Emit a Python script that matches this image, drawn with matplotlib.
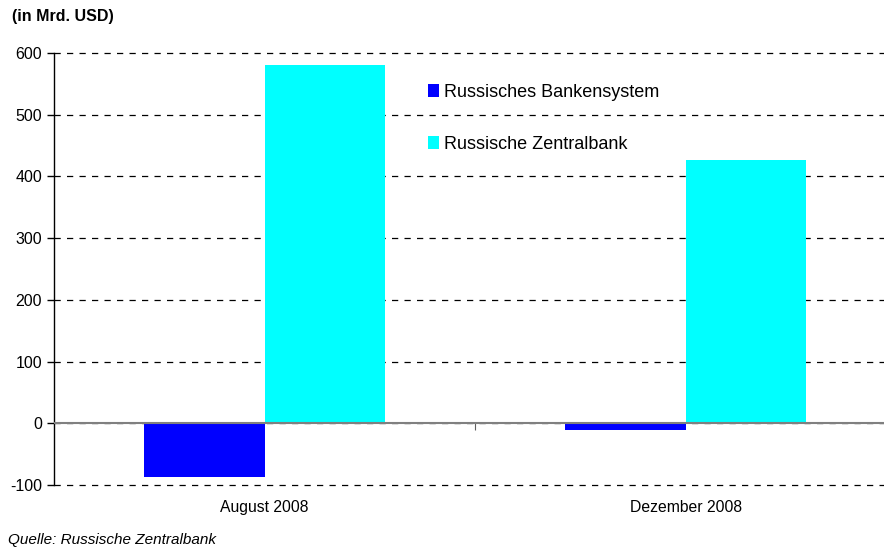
import matplotlib
matplotlib.use("Agg")
from matplotlib import pyplot as plt
import numpy as np

plt.rcParams['font.family'] = ['Liberation Sans', 'DejaVu Sans']

# Daten (in Mrd. USD)
categories = ['August 2008', 'Dezember 2008']
bankensystem = [-87, -11]
zentralbank = [580, 426]
series_names = ['Russisches Bankensystem', 'Russische Zentralbank']
yticks = [-100, 0, 100, 200, 300, 400, 500, 600]

fig = plt.figure(figsize=(8.84, 5.48), dpi=100)
# Achse reicht etwas ueber den rechten Rand hinaus (wie im Original)
ax = fig.add_axes([54/884, 1-485/548, 842/884, (485-53)/548])

x = np.arange(len(categories))
w = 0.287
ax.bar(x - w/2, bankensystem, w, color='#0000ff', label=series_names[0], zorder=3)
ax.bar(x + w/2, zentralbank, w, color='#00ffff', label=series_names[1], zorder=3)

ax.set_ylim(-100, 600)
ax.set_xlim(-0.5, 1.5)
ax.set_yticks(yticks)
ax.set_yticklabels([str(v) for v in yticks], fontsize=11.5)
ax.yaxis.grid(True, linestyle=(0, (5, 5)), color='black', linewidth=0.9, zorder=0)
for gl in ax.get_ygridlines():
    gl.set_clip_on(False)
ax.axhline(0, color='#808080', linewidth=1.5, zorder=4)

ax.set_xticks(x)
ax.set_xticklabels(categories, fontsize=11.3)
ax.tick_params(axis='x', length=0, pad=11)
ax.tick_params(axis='y', length=5, width=1, direction='out')

for s in ['top', 'right', 'bottom']:
    ax.spines[s].set_visible(False)
ax.spines['left'].set_linewidth(1)

# Trennstrich zwischen den Kategorien auf der Nulllinie
sec = ax.secondary_xaxis(100/700)
sec.set_xticks([0.5])
sec.set_xticklabels([''])
sec.spines['bottom'].set_visible(False)
sec.tick_params(length=5, color='#606060')

leg = ax.legend(loc='upper left', bbox_to_anchor=(367/842, 0.946), frameon=False,
                fontsize=13, handlelength=0.6, handleheight=0.7,
                handletextpad=0.3, labelspacing=1.95, borderaxespad=0)

fig.text(12/884, 1-17/548, '(in Mrd. USD)', fontsize=11.5, fontweight='bold', va='center')
fig.text(8/884, 1-540/548, 'Quelle: Russische Zentralbank', fontsize=11, style='italic', va='center')

fig.savefig('out.png', dpi=100)
